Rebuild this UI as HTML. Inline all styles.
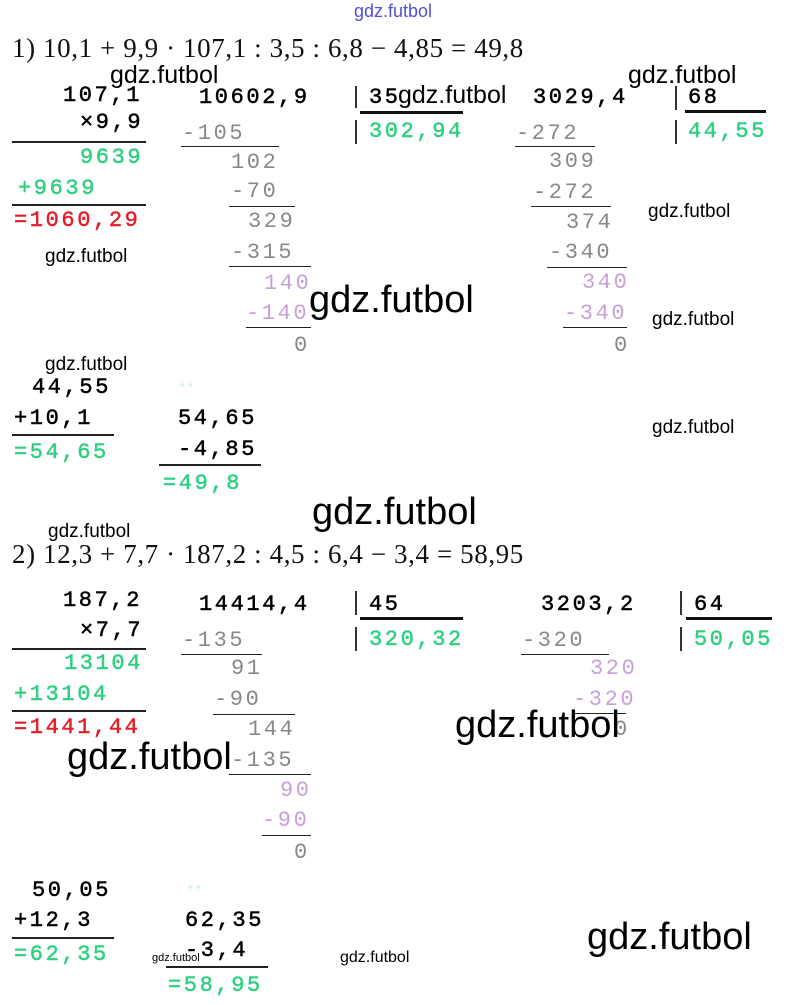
<!DOCTYPE html>
<html><head><meta charset="utf-8"><style>
body{margin:0;width:789px;height:1005px;background:#fff;position:relative;overflow:hidden}
div{position:absolute;white-space:pre;line-height:26px}
.m{font-family:"Liberation Mono",monospace;font-size:22px;letter-spacing:2.6px;color:#000;-webkit-text-stroke:0.5px currentColor}
.g{color:#2fd081}.r{color:#e2202c}.y{color:#888;-webkit-text-stroke:0}.p{color:#c7a0d8;-webkit-text-stroke:0}
.w{font-family:"Liberation Sans",sans-serif;color:#000}
.e{font-family:"Liberation Serif",serif;font-size:27px;letter-spacing:0.6px;color:#111;line-height:30px}
.l{height:2px;background:#222;line-height:0}
.t{height:3px;background:#111;line-height:0}
.v{width:2px;background:#333;line-height:0}
</style></head><body>
<div class="w" style="left:354px;top:0px;font-size:18px;color:#5050d8;line-height:22px">gdz.futbol</div>
<div class="e" style="left:12px;top:33px">1) 10,1 + 9,9 · 107,1 : 3,5 : 6,8 − 4,85 = 49,8</div>

<div class="m" style="left:63px;top:83px">107,1</div>
<div class="w" style="left:110px;top:61px;font-size:25px;line-height:28px">gdz.futbol</div>
<div class="m" style="left:80px;top:110px">×9,9</div>
<div class="l" style="left:12px;top:141px;width:134px"></div>
<div class="m g" style="left:80px;top:145px">9639</div>
<div class="m g" style="left:18px;top:176px">+9639</div>
<div class="l" style="left:12px;top:204px;width:134px"></div>
<div class="m r" style="left:14px;top:208px">=1060,29</div>
<div class="w" style="left:45px;top:244px;font-size:19px">gdz.futbol</div>

<div class="m" style="left:199px;top:85px">10602,9</div>
<div class="v" style="left:355px;top:86px;height:22px"></div>
<div class="m" style="left:369px;top:85px">35</div>
<div class="w" style="left:398px;top:81px;font-size:25px;line-height:28px">gdz.futbol</div>
<div class="t" style="left:360px;top:111px;width:103px"></div>
<div class="v" style="left:355px;top:120px;height:24px"></div>
<div class="m g" style="left:369px;top:119px">302,94</div>
<div class="m y" style="left:182px;top:121px">-105</div>
<div class="l" style="left:181px;top:146px;width:98px;height:1px"></div>
<div class="m y" style="left:231px;top:150px">102</div>
<div class="m y" style="left:231px;top:179px">-70</div>
<div class="l" style="left:229px;top:206px;width:66px;height:1px"></div>
<div class="m y" style="left:248px;top:209px">329</div>
<div class="m y" style="left:231px;top:240px">-315</div>
<div class="l" style="left:229px;top:266px;width:82px;height:1px"></div>
<div class="m p" style="left:264px;top:271px">140</div>
<div class="m p" style="left:246px;top:301px">-140</div>
<div class="l" style="left:246px;top:327px;width:65px;height:1px"></div>
<div class="m y" style="left:294px;top:333px">0</div>
<div class="w" style="left:309px;top:279px;font-size:38px;line-height:42px">gdz.futbol</div>

<div class="m" style="left:533px;top:85px">3029,4</div>
<div class="w" style="left:628px;top:61px;font-size:25px;line-height:28px">gdz.futbol</div>
<div class="v" style="left:675px;top:86px;height:24px"></div>
<div class="m" style="left:688px;top:85px">68</div>
<div class="t" style="left:685px;top:110px;width:81px"></div>
<div class="v" style="left:675px;top:120px;height:24px"></div>
<div class="m g" style="left:688px;top:119px">44,55</div>
<div class="m y" style="left:516px;top:121px">-272</div>
<div class="l" style="left:515px;top:146px;width:80px;height:1px"></div>
<div class="m y" style="left:549px;top:149px">309</div>
<div class="m y" style="left:533px;top:180px">-272</div>
<div class="l" style="left:531px;top:206px;width:80px;height:1px"></div>
<div class="m y" style="left:566px;top:210px">374</div>
<div class="w" style="left:648px;top:199px;font-size:19px">gdz.futbol</div>
<div class="m y" style="left:549px;top:240px">-340</div>
<div class="l" style="left:547px;top:267px;width:80px;height:1px"></div>
<div class="m p" style="left:582px;top:270px">340</div>
<div class="m p" style="left:564px;top:301px">-340</div>
<div class="w" style="left:652px;top:307px;font-size:19px">gdz.futbol</div>
<div class="l" style="left:563px;top:327px;width:64px;height:1px"></div>
<div class="m y" style="left:614px;top:333px">0</div>

<div class="w" style="left:45px;top:352px;font-size:19px">gdz.futbol</div>
<div class="m" style="left:32px;top:375px">44,55</div>
<div class="m" style="left:14px;top:406px">+10,1</div>
<div class="l" style="left:12px;top:434px;width:102px"></div>
<div class="m g" style="left:14px;top:440px">=54,65</div>
<div class="w" style="left:180px;top:374px;font-size:12px;color:#bfe8f0">* *</div>
<div class="m" style="left:178px;top:406px">54,65</div>
<div class="m" style="left:178px;top:437px">-4,85</div>
<div class="l" style="left:159px;top:464px;width:102px"></div>
<div class="m g" style="left:163px;top:471px">=49,8</div>
<div class="w" style="left:652px;top:415px;font-size:19px">gdz.futbol</div>
<div class="w" style="left:312px;top:491px;font-size:38px;line-height:42px">gdz.futbol</div>
<div class="w" style="left:48px;top:519px;font-size:19px">gdz.futbol</div>

<div class="e" style="left:12px;top:539px">2) 12,3 + 7,7 · 187,2 : 4,5 : 6,4 − 3,4 = 58,95</div>

<div class="m" style="left:63px;top:588px">187,2</div>
<div class="m" style="left:80px;top:618px">×7,7</div>
<div class="l" style="left:12px;top:648px;width:134px"></div>
<div class="m g" style="left:64px;top:651px">13104</div>
<div class="m g" style="left:14px;top:682px">+13104</div>
<div class="l" style="left:12px;top:710px;width:134px"></div>
<div class="m r" style="left:14px;top:715px">=1441,44</div>
<div class="w" style="left:67px;top:736px;font-size:38px;line-height:42px">gdz.futbol</div>

<div class="m" style="left:199px;top:592px">14414,4</div>
<div class="v" style="left:355px;top:591px;height:24px"></div>
<div class="m" style="left:369px;top:592px">45</div>
<div class="t" style="left:360px;top:617px;width:103px"></div>
<div class="v" style="left:355px;top:627px;height:24px"></div>
<div class="m g" style="left:369px;top:627px">320,32</div>
<div class="m y" style="left:182px;top:628px">-135</div>
<div class="l" style="left:181px;top:654px;width:81px;height:1px"></div>
<div class="m y" style="left:231px;top:656px">91</div>
<div class="m y" style="left:214px;top:687px">-90</div>
<div class="l" style="left:213px;top:714px;width:82px;height:1px"></div>
<div class="m y" style="left:248px;top:717px">144</div>
<div class="m y" style="left:231px;top:748px">-135</div>
<div class="l" style="left:229px;top:774px;width:82px;height:1px"></div>
<div class="m p" style="left:280px;top:778px">90</div>
<div class="m p" style="left:262px;top:808px">-90</div>
<div class="l" style="left:262px;top:835px;width:49px;height:1px"></div>
<div class="m y" style="left:294px;top:840px">0</div>

<div class="m" style="left:541px;top:592px">3203,2</div>
<div class="v" style="left:680px;top:591px;height:24px"></div>
<div class="m" style="left:694px;top:592px">64</div>
<div class="t" style="left:686px;top:617px;width:86px"></div>
<div class="v" style="left:680px;top:627px;height:24px"></div>
<div class="m g" style="left:694px;top:627px">50,05</div>
<div class="m y" style="left:522px;top:628px">-320</div>
<div class="l" style="left:521px;top:654px;width:88px;height:1px"></div>
<div class="m p" style="left:590px;top:656px">320</div>
<div class="m p" style="left:573px;top:687px">-320</div>
<div class="l" style="left:573px;top:713px;width:53px;height:1px"></div>
<div class="m y" style="left:614px;top:717px">0</div>
<div class="w" style="left:455px;top:704px;font-size:38px;line-height:42px">gdz.futbol</div>

<div class="m" style="left:32px;top:878px">50,05</div>
<div class="m" style="left:14px;top:908px">+12,3</div>
<div class="l" style="left:12px;top:937px;width:102px"></div>
<div class="m g" style="left:14px;top:942px">=62,35</div>
<div class="w" style="left:188px;top:876px;font-size:12px;color:#bfe8f0">* *</div>
<div class="m" style="left:185px;top:908px">62,35</div>
<div class="m" style="left:185px;top:938px">-3,4</div>
<div class="w" style="left:152px;top:950px;font-size:11px;line-height:16px">gdz.futbol</div>
<div class="l" style="left:166px;top:966px;width:102px"></div>
<div class="m g" style="left:168px;top:973px">=58,95</div>
<div class="w" style="left:340px;top:947px;font-size:16px;line-height:22px">gdz.futbol</div>
<div class="w" style="left:587px;top:916px;font-size:38px;line-height:42px">gdz.futbol</div>
</body></html>
